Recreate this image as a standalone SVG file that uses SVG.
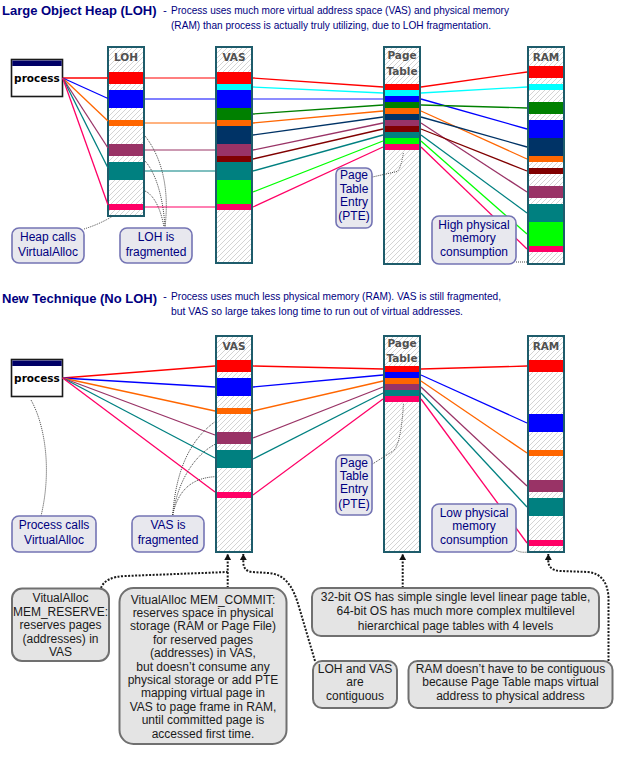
<svg xmlns="http://www.w3.org/2000/svg" width="625" height="757" viewBox="0 0 625 757">
<defs>
<pattern id="hatch" patternUnits="userSpaceOnUse" width="5" height="5">
<rect width="5" height="5" fill="#ffffff"/>
<path d="M0,5 L5,0 M-1,1 L1,-1 M4,6 L6,4" stroke="#d4d4d4" stroke-width="1"/>
</pattern>
<marker id="arr" markerUnits="userSpaceOnUse" markerWidth="7" markerHeight="7" refX="6" refY="3.5" orient="auto">
<path d="M0,0 L6,3.5 L0,7 z" fill="#111"/>
</marker>
</defs>
<style>
.title{font-family:"Liberation Sans",Arial,sans-serif;font-weight:bold;font-size:13px;fill:#000080}
.desc{font-family:"Liberation Sans",Arial,sans-serif;font-size:11.5px;fill:#000080}
.col{fill:url(#hatch);stroke:#1e5c6b;stroke-width:2}
.clab{font-family:"DejaVu Sans",Verdana,sans-serif;font-weight:bold;font-size:10.5px;fill:#505050;text-anchor:middle}
.pbody{fill:#fff;stroke:#1a1a1a;stroke-width:1.6}
.phead{fill:#000066}
.ptxt{font-family:"DejaVu Sans",Verdana,sans-serif;font-weight:bold;font-size:10.5px;fill:#000;text-anchor:middle}
.note{fill:#e8e8ee;stroke:#7474b4;stroke-width:1.6}
.ntxt{font-family:"Liberation Sans",Arial,sans-serif;font-size:12px;fill:#000080;text-anchor:middle}
.box2{fill:#e4e4e4;stroke:#707070;stroke-width:2}
.btxt{font-family:"Liberation Sans",Arial,sans-serif;font-size:12px;fill:#1a1a1a;text-anchor:middle}
.dot1{fill:none;stroke:#444;stroke-width:1;stroke-dasharray:1 1}
.dot2{fill:none;stroke:#1a1a1a;stroke-width:2;stroke-dasharray:2 1.5}
.ln{fill:none;stroke-width:1.3}
.lt{fill:none;stroke-width:2;stroke-opacity:0.5}
</style>

<!-- Titles -->
<g id="title-top">
<text class="title" x="2" y="15">Large Object Heap (LOH)</text>
<text class="desc" x="163" y="14">-</text>
<text class="desc" x="171" y="13.5" textLength="338" lengthAdjust="spacingAndGlyphs">Process uses much more virtual address space (VAS) and physical memory</text>
<text class="desc" x="171" y="28.5" textLength="320" lengthAdjust="spacingAndGlyphs">(RAM) than process is actually truly utilizing, due to LOH fragmentation.</text>
</g>
<g id="title-bottom">
<text class="title" x="2" y="303">New Technique (No LOH)</text>
<text class="desc" x="163" y="300">-</text>
<text class="desc" x="171" y="299.5" textLength="330" lengthAdjust="spacingAndGlyphs">Process uses much less physical memory (RAM). VAS is still fragmented,</text>
<text class="desc" x="171" y="314.5" textLength="292" lengthAdjust="spacingAndGlyphs">but VAS so large takes long time to run out of virtual addresses.</text>
</g>

<!-- Top section columns -->
<g id="process-top">
<rect class="pbody" x="11.5" y="59.5" width="51" height="37"/>
<rect class="phead" x="12.3" y="60.5" width="49.4" height="5.5"/>
<text class="ptxt" x="37" y="82">process</text>
</g>

<g id="loh-top">
<rect class="col" x="108" y="47" width="36" height="169"/>
<text class="clab" x="126" y="61">LOH</text>
<rect x="109" y="72" width="34" height="12" fill="#ff0000"/>
<rect x="109" y="90" width="34" height="18" fill="#0000ff"/>
<rect x="109" y="120" width="34" height="6" fill="#ff6600"/>
<rect x="109" y="144" width="34" height="12" fill="#993366"/>
<rect x="109" y="162" width="34" height="18" fill="#008080"/>
<rect x="109" y="204" width="34" height="6" fill="#ff0066"/>
</g>

<g id="vas-top">
<rect class="col" x="216" y="47" width="36" height="216"/>
<text class="clab" x="234" y="61">VAS</text>
<rect x="217" y="72" width="34" height="12" fill="#ff0000"/>
<rect x="217" y="84" width="34" height="6" fill="#00ffff"/>
<rect x="217" y="90" width="34" height="18" fill="#0000ff"/>
<rect x="217" y="108" width="34" height="12" fill="#008000"/>
<rect x="217" y="120" width="34" height="6" fill="#ff6600"/>
<rect x="217" y="126" width="34" height="18" fill="#003366"/>
<rect x="217" y="144" width="34" height="12" fill="#993366"/>
<rect x="217" y="156" width="34" height="6" fill="#800000"/>
<rect x="217" y="162" width="34" height="18" fill="#008080"/>
<rect x="217" y="180" width="34" height="24" fill="#00ff00"/>
<rect x="217" y="204" width="34" height="6" fill="#ff0066"/>
</g>

<g id="pagetable-top">
<rect class="col" x="384" y="47" width="36" height="217"/>
<text class="clab" x="402" y="59">Page</text>
<text class="clab" x="402" y="74.5">Table</text>
<rect x="385" y="84" width="34" height="6" fill="#ff0000"/>
<rect x="385" y="90" width="34" height="6" fill="#00ffff"/>
<rect x="385" y="96" width="34" height="6" fill="#0000ff"/>
<rect x="385" y="102" width="34" height="6" fill="#008000"/>
<rect x="385" y="108" width="34" height="6" fill="#ff6600"/>
<rect x="385" y="114" width="34" height="6" fill="#003366"/>
<rect x="385" y="120" width="34" height="6" fill="#993366"/>
<rect x="385" y="126" width="34" height="6" fill="#800000"/>
<rect x="385" y="132" width="34" height="6" fill="#008080"/>
<rect x="385" y="138" width="34" height="6" fill="#00ff00"/>
<rect x="385" y="144" width="34" height="6" fill="#ff0066"/>
</g>

<g id="ram-top">
<rect class="col" x="528" y="47" width="36" height="217"/>
<text class="clab" x="546" y="61">RAM</text>
<rect x="529" y="66" width="34" height="12" fill="#ff0000"/>
<rect x="529" y="84" width="34" height="6" fill="#00ffff"/>
<rect x="529" y="102" width="34" height="12" fill="#008000"/>
<rect x="529" y="120" width="34" height="18" fill="#0000ff"/>
<rect x="529" y="138" width="34" height="18" fill="#003366"/>
<rect x="529" y="156" width="34" height="6" fill="#ff6600"/>
<rect x="529" y="168" width="34" height="6" fill="#800000"/>
<rect x="529" y="186" width="34" height="12" fill="#993366"/>
<rect x="529" y="204" width="34" height="18" fill="#008080"/>
<rect x="529" y="222" width="34" height="24" fill="#00ff00"/>
<rect x="529" y="246" width="34" height="6" fill="#ff0066"/>
</g>

<!-- Bottom section columns -->
<g id="process-bottom">
<rect class="pbody" x="11.5" y="359.5" width="51" height="37"/>
<rect class="phead" x="12.3" y="360.5" width="49.4" height="5.5"/>
<text class="ptxt" x="37" y="382.3">process</text>
</g>

<g id="vas-bottom">
<rect class="col" x="216" y="336" width="36" height="216"/>
<text class="clab" x="234" y="349.5">VAS</text>
<rect x="217" y="360" width="34" height="12" fill="#ff0000"/>
<rect x="217" y="378" width="34" height="18" fill="#0000ff"/>
<rect x="217" y="408" width="34" height="6" fill="#ff6600"/>
<rect x="217" y="432" width="34" height="12" fill="#993366"/>
<rect x="217" y="450" width="34" height="18" fill="#008080"/>
<rect x="217" y="492" width="34" height="6" fill="#ff0066"/>
</g>

<g id="pagetable-bottom">
<rect class="col" x="384" y="336" width="36" height="216"/>
<text class="clab" x="402" y="346.7">Page</text>
<text class="clab" x="402" y="361.7">Table</text>
<rect x="385" y="366" width="34" height="6" fill="#ff0000"/>
<rect x="385" y="372" width="34" height="6" fill="#0000ff"/>
<rect x="385" y="378" width="34" height="6" fill="#ff6600"/>
<rect x="385" y="384" width="34" height="6" fill="#993366"/>
<rect x="385" y="390" width="34" height="6" fill="#008080"/>
<rect x="385" y="396" width="34" height="6" fill="#ff0066"/>
</g>

<g id="ram-bottom">
<rect class="col" x="528" y="336" width="36" height="216"/>
<text class="clab" x="546" y="349.5">RAM</text>
<rect x="529" y="360" width="34" height="12" fill="#ff0000"/>
<rect x="529" y="414" width="34" height="18" fill="#0000ff"/>
<rect x="529" y="450" width="34" height="6" fill="#ff6600"/>
<rect x="529" y="480" width="34" height="12" fill="#993366"/>
<rect x="529" y="498" width="34" height="18" fill="#008080"/>
<rect x="529" y="540" width="34" height="6" fill="#ff0066"/>
</g>

<!-- Connectors -->
<g id="connectors">
<!-- top: process -> LOH -->
<line class="ln" x1="62.7" y1="78" x2="108" y2="78" stroke="#ff0000"/>
<line class="ln" x1="62.7" y1="78" x2="108" y2="98.5" stroke="#0000ff"/>
<line class="ln" x1="62.7" y1="78" x2="108" y2="121" stroke="#ff6600"/>
<line class="ln" x1="62.7" y1="78" x2="108" y2="148" stroke="#993366"/>
<line class="ln" x1="62.7" y1="78" x2="108" y2="168" stroke="#008080"/>
<line class="ln" x1="62.7" y1="78" x2="108" y2="205" stroke="#ff0066"/>
<!-- top: LOH -> VAS -->
<line class="lt" x1="145" y1="78" x2="215" y2="78" stroke="#ff0000"/>
<line class="lt" x1="145" y1="99" x2="215" y2="99" stroke="#0000ff"/>
<line class="lt" x1="145" y1="123" x2="215" y2="123" stroke="#ff6600"/>
<line class="lt" x1="145" y1="150" x2="215" y2="150" stroke="#993366"/>
<line class="lt" x1="145" y1="171" x2="215" y2="171" stroke="#008080"/>
<line class="lt" x1="145" y1="207" x2="215" y2="207" stroke="#ff0066"/>
<!-- top: VAS -> Page Table -->
<line class="ln" x1="253" y1="78" x2="383" y2="87" stroke="#ff0000"/>
<line class="ln" x1="253" y1="87" x2="383" y2="93" stroke="#00ffff"/>
<line class="ln" x1="253" y1="99" x2="383" y2="99" stroke="#0000ff" stroke-opacity="0.6" stroke-width="2"/>
<line class="ln" x1="253" y1="114" x2="383" y2="105" stroke="#008000"/>
<line class="ln" x1="253" y1="123" x2="383" y2="111" stroke="#ff6600"/>
<line class="ln" x1="253" y1="135" x2="383" y2="117" stroke="#003366"/>
<line class="ln" x1="253" y1="150" x2="383" y2="123" stroke="#993366"/>
<line class="ln" x1="253" y1="159" x2="383" y2="129" stroke="#800000"/>
<line class="ln" x1="253" y1="171" x2="383" y2="135" stroke="#008080"/>
<line class="ln" x1="253" y1="192" x2="383" y2="141" stroke="#00ff00"/>
<line class="ln" x1="253" y1="207" x2="383" y2="147" stroke="#ff0066"/>
<!-- top: Page Table -> RAM -->
<line class="ln" x1="421" y1="87" x2="527" y2="72" stroke="#ff0000"/>
<line class="ln" x1="421" y1="93" x2="527" y2="87" stroke="#00ffff"/>
<line class="ln" x1="421" y1="99" x2="527" y2="129" stroke="#0000ff"/>
<line class="ln" x1="421" y1="105" x2="527" y2="108" stroke="#008000"/>
<line class="ln" x1="421" y1="111" x2="527" y2="159" stroke="#ff6600"/>
<line class="ln" x1="421" y1="117" x2="527" y2="147" stroke="#003366"/>
<line class="ln" x1="421" y1="123" x2="527" y2="192" stroke="#993366"/>
<line class="ln" x1="421" y1="129" x2="527" y2="171" stroke="#800000"/>
<line class="ln" x1="421" y1="135" x2="527" y2="213" stroke="#008080"/>
<line class="ln" x1="421" y1="141" x2="527" y2="234" stroke="#00ff00"/>
<line class="ln" x1="421" y1="147" x2="527" y2="249" stroke="#ff0066"/>

<!-- bottom: process -> VAS -->
<line class="ln" x1="62.7" y1="378" x2="215" y2="366" stroke="#ff0000"/>
<line class="ln" x1="62.7" y1="378" x2="215" y2="387" stroke="#0000ff"/>
<line class="ln" x1="62.7" y1="378" x2="215" y2="411" stroke="#ff6600"/>
<line class="ln" x1="62.7" y1="378" x2="215" y2="435" stroke="#993366"/>
<line class="ln" x1="62.7" y1="378" x2="215" y2="458" stroke="#008080"/>
<line class="ln" x1="62.7" y1="378" x2="215" y2="492" stroke="#ff0066"/>
<!-- bottom: VAS -> Page Table -->
<line class="ln" x1="253" y1="366" x2="383" y2="369" stroke="#ff0000"/>
<line class="ln" x1="253" y1="387" x2="383" y2="375" stroke="#0000ff"/>
<line class="ln" x1="253" y1="411" x2="383" y2="381" stroke="#ff6600"/>
<line class="ln" x1="253" y1="438" x2="383" y2="387" stroke="#993366"/>
<line class="ln" x1="253" y1="459" x2="383" y2="393" stroke="#008080"/>
<line class="ln" x1="253" y1="495" x2="383" y2="399" stroke="#ff0066"/>
<!-- bottom: Page Table -> RAM -->
<line class="ln" x1="421" y1="369" x2="527" y2="366" stroke="#ff0000"/>
<line class="ln" x1="421" y1="375" x2="527" y2="423" stroke="#0000ff"/>
<line class="ln" x1="421" y1="381" x2="527" y2="453" stroke="#ff6600"/>
<line class="ln" x1="421" y1="387" x2="527" y2="486" stroke="#993366"/>
<line class="ln" x1="421" y1="393" x2="527" y2="507" stroke="#008080"/>
<line class="ln" x1="421" y1="399" x2="527" y2="543" stroke="#ff0066"/>

<!-- top callout connectors -->
<path class="dot1" d="M84,229 Q100,224 112,216.5"/>
<path class="dot1" d="M145,136 C160,155 170,185 165,227"/>
<path class="dot1" d="M145,161 C155,172 163,195 165,227"/>
<path class="dot1" d="M145,191 C152,194 160,205 164,227"/>
<path class="dot1" d="M372.5,177 L397,171.5 Q401,169 403.5,152"/>
<path class="dot1" d="M516,262 L528,262"/>

<!-- bottom callout connectors -->
<path class="dot1" d="M31,400 C45,425 52,470 41,516"/>
<path class="dot1" d="M172.7,515 C176,470 190,440 215,421.7"/>
<path class="dot1" d="M172.7,515 C178,480 195,455 215,444.3"/>
<path class="dot1" d="M172.7,515 C178,490 192,478 215,476.7"/>
<path class="dot1" d="M372.5,464 L393,451 Q401,445 403.5,403"/>
<path class="dot1" d="M516,550 Q520,553 528,552"/>

<!-- bottom notes connectors -->
<path class="dot2" d="M101,588 Q105,577 125,576 L227.7,572"/>
<path class="dot2" d="M227.7,588 L227.7,554" marker-end="url(#arr)"/>
<path class="dot2" d="M315,661 L299,607 C293,586 285,574 268,573 L252,572 Q243.3,571 243.3,562 L243.3,554" marker-end="url(#arr)"/>
<path class="dot2" d="M402.7,588 L402.7,554" marker-end="url(#arr)"/>
<path class="dot2" d="M608.5,661 L608.5,597 Q607,574 588,572 L560,571 Q548.3,570 548.3,561 L548.3,554" marker-end="url(#arr)"/>
</g>

<!-- Blue notes, top -->
<g id="note-heap-calls">
<rect class="note" x="12" y="228" width="72" height="35" rx="7"/>
<text class="ntxt" x="48" y="241">Heap calls</text>
<text class="ntxt" x="48" y="256">VirtualAlloc</text>
</g>
<g id="note-loh-fragmented">
<rect class="note" x="120" y="228" width="72" height="35" rx="7"/>
<text class="ntxt" x="156" y="241">LOH is</text>
<text class="ntxt" x="156" y="256">fragmented</text>
</g>
<g id="note-pte-top">
<rect class="note" x="336" y="168" width="36" height="60" rx="6"/>
<text class="ntxt" x="354" y="179.3">Page</text>
<text class="ntxt" x="354" y="192.5">Table</text>
<text class="ntxt" x="354" y="205.8">Entry</text>
<text class="ntxt" x="354" y="220.3">(PTE)</text>
</g>
<g id="note-high-physical">
<rect class="note" x="432" y="216" width="84" height="48" rx="7"/>
<text class="ntxt" x="474" y="229">High physical</text>
<text class="ntxt" x="474" y="241.5">memory</text>
<text class="ntxt" x="474" y="256">consumption</text>
</g>

<!-- Blue notes, bottom -->
<g id="note-process-calls">
<rect class="note" x="12" y="516" width="84" height="36" rx="7"/>
<text class="ntxt" x="54" y="528.5">Process calls</text>
<text class="ntxt" x="54" y="544">VirtualAlloc</text>
</g>
<g id="note-vas-fragmented">
<rect class="note" x="132" y="516" width="72" height="36" rx="7"/>
<text class="ntxt" x="168" y="528.5">VAS is</text>
<text class="ntxt" x="168" y="544">fragmented</text>
</g>
<g id="note-pte-bottom">
<rect class="note" x="336" y="455" width="36" height="60" rx="6"/>
<text class="ntxt" x="354" y="466.6">Page</text>
<text class="ntxt" x="354" y="479.8">Table</text>
<text class="ntxt" x="354" y="493">Entry</text>
<text class="ntxt" x="354" y="507.6">(PTE)</text>
</g>
<g id="note-low-physical">
<rect class="note" x="432" y="504" width="84" height="48" rx="7"/>
<text class="ntxt" x="474" y="517">Low physical</text>
<text class="ntxt" x="474" y="529.5">memory</text>
<text class="ntxt" x="474" y="544">consumption</text>
</g>

<!-- Gray notes -->
<g id="note-mem-reserve">
<rect class="box2" x="12" y="588.5" width="97" height="72.5" rx="10"/>
<text class="btxt" x="60.5" y="602">VitualAlloc</text>
<text class="btxt" x="60.5" y="615.5">MEM_RESERVE:</text>
<text class="btxt" x="60.5" y="629">reserves pages</text>
<text class="btxt" x="60.5" y="642.5">(addresses) in</text>
<text class="btxt" x="60.5" y="656">VAS</text>
</g>
<g id="note-mem-commit">
<rect class="box2" x="119.5" y="588" width="167" height="156" rx="14"/>
<text class="btxt" x="203" y="603.5">VitualAlloc MEM_COMMIT:</text>
<text class="btxt" x="203" y="616.9">reserves space in physical</text>
<text class="btxt" x="203" y="630.3">storage (RAM or Page File)</text>
<text class="btxt" x="203" y="643.7">for reserved pages</text>
<text class="btxt" x="203" y="657.1">(addresses) in VAS,</text>
<text class="btxt" x="203" y="670.5">but doesn’t consume any</text>
<text class="btxt" x="203" y="683.9">physical storage or add PTE</text>
<text class="btxt" x="203" y="697.3">mapping virtual page in</text>
<text class="btxt" x="203" y="710.7">VAS to page frame in RAM,</text>
<text class="btxt" x="203" y="724.1">until committed page is</text>
<text class="btxt" x="203" y="737.5">accessed first time.</text>
</g>
<g id="note-page-tables">
<rect class="box2" x="312" y="588" width="287" height="48" rx="9"/>
<text class="btxt" x="455.5" y="601">32-bit OS has simple single level linear page table,</text>
<text class="btxt" x="455.5" y="614.5">64-bit OS has much more complex multilevel</text>
<text class="btxt" x="455.5" y="629.5">hierarchical page tables with 4 levels</text>
</g>
<g id="note-contiguous">
<rect class="box2" x="313" y="661" width="84" height="47" rx="9"/>
<text class="btxt" x="355" y="672.5">LOH and VAS</text>
<text class="btxt" x="355" y="685.5">are</text>
<text class="btxt" x="355" y="700">contiguous</text>
</g>
<g id="note-ram-contiguous">
<rect class="box2" x="408.5" y="661" width="204" height="47" rx="9"/>
<text class="btxt" x="510.5" y="672.5">RAM doesn’t have to be contiguous</text>
<text class="btxt" x="510.5" y="685.5">because Page Table maps virtual</text>
<text class="btxt" x="510.5" y="700">address to physical address</text>
</g>
</svg>
